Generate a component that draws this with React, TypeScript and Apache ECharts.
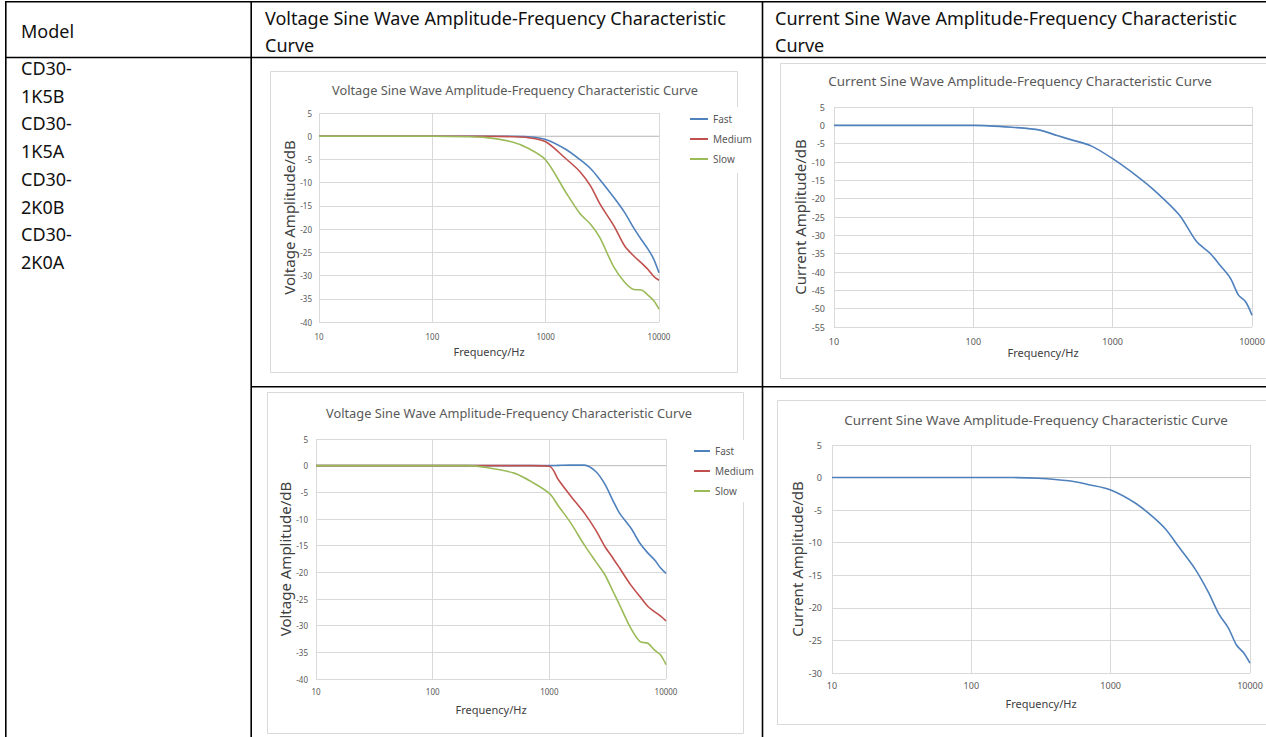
import React, { useEffect, useRef } from "react";
import * as echarts from "echarts";

const FONT = '"Noto Sans", "DejaVu Sans", sans-serif';

// ---- table texts ----
const headerModel = "Model";
const headerVoltage = ["Voltage Sine Wave Amplitude-Frequency Characteristic", "Curve"];
const headerCurrent = ["Current Sine Wave Amplitude-Frequency Characteristic", "Curve"];
const modelLines = ["CD30-", "1K5B", "CD30-", "1K5A", "CD30-", "2K0B", "CD30-", "2K0A"];

// ---- chart texts ----
const voltageTitle = "Voltage Sine Wave Amplitude-Frequency Characteristic Curve";
const currentTitle = "Current Sine Wave Amplitude-Frequency Characteristic Curve";
const voltageYName = "Voltage Amplitude/dB";
const currentYName = "Current Amplitude/dB";
const xName = "Frequency/Hz";
const seriesNames = ["Fast", "Medium", "Slow"];
const xTicks = [10, 100, 1000, 10000];

// ---- top voltage chart ----
const v1Freq = [10, 100, 200, 300, 500, 700, 1000, 1500, 2000, 2500, 3000, 4000, 5000, 6000, 7000, 8000, 9000, 10000];
const v1Fast = [0, 0, 0, 0, 0, -0.1, -0.7, -2.8, -5.0, -7.0, -9.3, -13.2, -16.5, -19.8, -22.3, -24.3, -26.5, -29.4];
const v1Medium = [0, 0, 0, 0, -0.1, -0.3, -1.2, -4.8, -7.6, -10.8, -14.5, -19.3, -23.7, -25.8, -27.3, -28.7, -30.2, -31.0];
const v1Slow = [0, 0, -0.1, -0.3, -1.2, -2.6, -5.1, -12.0, -16.6, -19.0, -21.8, -28.2, -31.5, -33.0, -33.1, -34.2, -35.4, -37.2];

// ---- bottom voltage chart ----
const v2Freq = [10, 100, 200, 300, 500, 700, 1000, 1200, 1500, 2000, 2500, 3000, 3500, 4000, 5000, 6000, 7000, 8000, 9000, 10000];
const v2Fast = [0, 0, 0, 0, 0, 0, 0, 0.05, 0.1, 0.1, -1.1, -3.5, -6.5, -8.9, -11.7, -14.6, -16.4, -17.7, -19.2, -20.2];
const v2Medium = [0, 0, 0, 0, 0, 0, -0.1, -2.7, -5.5, -8.9, -12.1, -15.2, -17.3, -19.2, -22.4, -24.6, -26.4, -27.4, -28.2, -29.1];
const v2Slow = [0, 0, 0, -0.4, -1.4, -3.0, -5.2, -7.6, -10.5, -14.9, -18.0, -20.5, -23.5, -26.1, -30.5, -33.0, -33.3, -34.6, -35.5, -37.3];

// ---- top current chart ----
const c1Freq = [10, 100, 200, 300, 400, 500, 700, 1000, 1500, 2000, 3000, 4000, 5000, 6000, 7000, 8000, 9000, 10000];
const c1Amp = [0, 0, -0.6, -1.3, -2.8, -3.9, -5.6, -9.1, -13.9, -17.8, -24.4, -31.7, -34.9, -38.5, -41.7, -46.3, -48.1, -51.8];

// ---- bottom current chart ----
const c2Freq = [10, 100, 200, 300, 500, 700, 1000, 1500, 2000, 2500, 3000, 4000, 5000, 6000, 7000, 8000, 9000, 10000];
const c2Amp = [0, 0, 0, -0.1, -0.5, -1.1, -1.9, -3.9, -6.0, -8.0, -10.3, -13.9, -17.5, -21.0, -23.1, -25.7, -26.9, -28.5];

const COLORS = ["#4F81BD", "#C0504D", "#9BBB59"];

const zip = (xs: number[], ys: number[]) => xs.map((x, i) => [x, ys[i]]);

type GridDef = {
  left: number; top: number; width: number; height: number;
  yMin: number; yName: string; labelSize: number; yMargin: number; xMargin: number;
  yNameGap: number; xNameGap: number;
};

const grids: GridDef[] = [
  { left: 319, top: 113, width: 340, height: 209, yMin: -40, yName: voltageYName, labelSize: 8, yMargin: 7, xMargin: 10, yNameGap: 21, xNameGap: 24 },
  { left: 834, top: 107, width: 418, height: 220, yMin: -55, yName: currentYName, labelSize: 9, yMargin: 9, xMargin: 10, yNameGap: 22, xNameGap: 20 },
  { left: 316, top: 439, width: 350, height: 240, yMin: -40, yName: voltageYName, labelSize: 8, yMargin: 8, xMargin: 8, yNameGap: 21, xNameGap: 25 },
  { left: 832, top: 445, width: 418, height: 228, yMin: -30, yName: currentYName, labelSize: 9, yMargin: 10, xMargin: 8, yNameGap: 22, xNameGap: 25 },
];

export default function App() {
  const ref = useRef<HTMLDivElement>(null);

  useEffect(() => {
    if (!ref.current) return;
    const chart = echarts.init(ref.current, undefined, { renderer: "svg" });

    const line = (x1: number, y1: number, x2: number, y2: number) => ({
      type: "line",
      shape: { x1, y1, x2, y2 },
      style: { stroke: "#000", lineWidth: 1.6 },
      z: 10,
    });
    const text = (t: string, x: number, y: number, size: number, fill: string, align = "left") => ({
      type: "text",
      x,
      y,
      z: 10,
      style: {
        text: t,
        fill,
        font: `${size}px ${FONT}`,
        textAlign: align,
        textVerticalAlign: "middle",
      },
    });
    const frame = (x: number, y: number, w: number, h: number) => ({
      type: "rect",
      shape: { x, y, width: w, height: h },
      style: { fill: "none", stroke: "#d9d9d9", lineWidth: 1 },
      z: 0,
    });
    const cover = (x: number, y: number, w: number, h: number) => ({
      type: "rect",
      shape: { x, y, width: w, height: h },
      style: { fill: "#fff", stroke: "none" },
      z: 1,
    });

    const graphic: any[] = [
      // chart frames
      frame(270.5, 71.5, 467, 301),
      frame(780.5, 63.5, 520, 315),
      frame(267.5, 392.5, 476, 341),
      frame(777.5, 400.5, 520, 324),
      cover(684, 107, 70, 66),
      cover(690, 440, 70, 62),
      // titles
      text(voltageTitle, 515, 90, 12.8, "#595959", "center"),
      text(currentTitle, 1020, 81, 13.4, "#595959", "center"),
      text(voltageTitle, 509, 413, 12.8, "#595959", "center"),
      text(currentTitle, 1036, 420, 13.4, "#595959", "center"),
      // table lines
      line(5, 1.7, 1266, 1.7),
      line(5, 57.5, 1266, 57.5),
      line(251, 386.8, 1266, 386.8),
      line(5.8, 1, 5.8, 737),
      line(251.2, 1, 251.2, 737),
      line(762.5, 1, 762.5, 737),
      // table texts
      text(headerModel, 21, 31, 18, "#111"),
      text(headerVoltage[0], 265, 18, 18, "#111"),
      text(headerVoltage[1], 265, 45, 18, "#111"),
      text(headerCurrent[0], 775, 18, 18, "#111"),
      text(headerCurrent[1], 775, 45, 18, "#111"),
      ...modelLines.map((m, i) => text(m, 21, 68 + i * 27.7, 18, "#111")),
    ];

    const xAxis = grids.map((g, i) => ({
      type: "log",
      logBase: 10,
      gridIndex: i,
      min: xTicks[0],
      max: xTicks[xTicks.length - 1],
      axisLine: { show: false },
      axisTick: { show: false },
      splitLine: { show: true, lineStyle: { color: "#d9d9d9", width: 1 } },
      minorSplitLine: { show: false },
      axisLabel: {
        fontSize: g.labelSize,
        color: "#595959",
        fontFamily: FONT,
        margin: g.xMargin,
        formatter: (v: number) => String(Math.round(v)),
      },
      name: xName,
      nameLocation: "middle",
      nameGap: g.xNameGap,
      nameTextStyle: { fontSize: 11, color: "#404040", fontFamily: FONT },
    }));

    const yAxis = grids.map((g, i) => ({
      type: "value",
      gridIndex: i,
      min: g.yMin,
      max: 5,
      interval: 5,
      axisLine: { show: false },
      axisTick: { show: false },
      splitLine: { show: true, lineStyle: { color: "#d9d9d9", width: 1 } },
      axisLabel: { fontSize: g.labelSize, color: "#595959", fontFamily: FONT, margin: g.yMargin },
      name: g.yName,
      nameLocation: "middle",
      nameGap: g.yNameGap,
      nameTextStyle: { fontSize: 15, color: "#404040", fontFamily: FONT },
    }));

    const curve = (name: string, idx: number, data: number[][], color: string) => ({
      type: "line",
      name,
      xAxisIndex: idx,
      yAxisIndex: idx,
      data,
      smooth: 0.3,
      symbol: "none",
      lineStyle: { color, width: 1.6 },
      itemStyle: { color },
      z: 3,
      silent: true,
    });
    const zeroLine = (idx: number) => ({
      type: "line",
      name: "zero-" + idx,
      xAxisIndex: idx,
      yAxisIndex: idx,
      data: [[xTicks[0], 0], [xTicks[xTicks.length - 1], 0]],
      symbol: "none",
      lineStyle: { color: "#bfbfbf", width: 1 },
      z: 1,
      silent: true,
    });

    const series: any[] = [
      zeroLine(0), zeroLine(1), zeroLine(2), zeroLine(3),
      curve(seriesNames[0], 0, zip(v1Freq, v1Fast), COLORS[0]),
      curve(seriesNames[1], 0, zip(v1Freq, v1Medium), COLORS[1]),
      curve(seriesNames[2], 0, zip(v1Freq, v1Slow), COLORS[2]),
      curve("Current", 1, zip(c1Freq, c1Amp), COLORS[0]),
      curve(seriesNames[0], 2, zip(v2Freq, v2Fast), COLORS[0]),
      curve(seriesNames[1], 2, zip(v2Freq, v2Medium), COLORS[1]),
      curve(seriesNames[2], 2, zip(v2Freq, v2Slow), COLORS[2]),
      curve("Current", 3, zip(c2Freq, c2Amp), COLORS[0]),
    ];

    const legendBase = {
      orient: "vertical",
      icon: "rect",
      itemHeight: 2,
      itemGap: 8,
      padding: 0,
      selectedMode: false,
      textStyle: { fontSize: 10, lineHeight: 12, color: "#595959", fontFamily: FONT },
      data: seriesNames,
    };

    chart.setOption({
      animation: false,
      backgroundColor: "#fff",
      textStyle: { fontFamily: FONT },
      grid: grids.map((g) => ({
        left: g.left,
        top: g.top,
        width: g.width,
        height: g.height,
        containLabel: false,
        outerBoundsMode: "none",
      })),
      xAxis,
      yAxis,
      legend: [
        { ...legendBase, left: 690, top: 113, itemWidth: 18 },
        { ...legendBase, left: 694, top: 445, itemWidth: 16 },
      ],
      graphic,
      series,
    } as any);

    return () => chart.dispose();
  }, []);

  return (
    <div
      ref={ref}
      style={{ position: "absolute", left: 0, top: 0, width: 1266, height: 737, background: "#fff" }}
    />
  );
}
